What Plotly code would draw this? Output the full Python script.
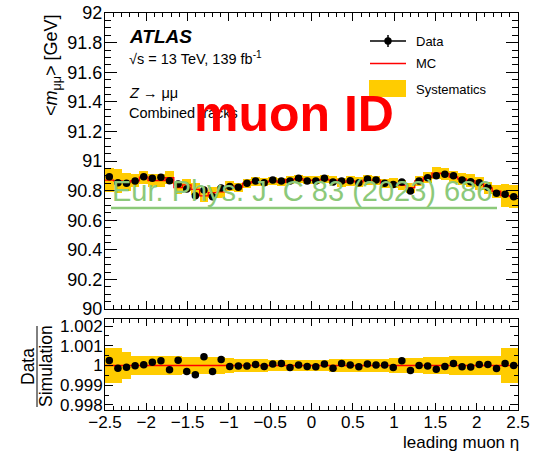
import numpy as np
import plotly.graph_objects as go

# ---------------- data ----------------
eta_edges = np.linspace(-2.5, 2.5, 49)   # 48 bins in leading-muon eta

data_mass = [90.894, 90.853, 90.849, 90.865, 90.894, 90.883, 90.890, 90.867,
             90.845, 90.811, 90.766, 90.804, 90.759, 90.818, 90.827, 90.822,
             90.849, 90.865, 90.853, 90.872, 90.865, 90.865, 90.883, 90.865,
             90.865, 90.883, 90.858, 90.865, 90.867, 90.853, 90.878, 90.872,
             90.849, 90.842, 90.858, 90.797, 90.865, 90.887, 90.901, 90.910,
             90.901, 90.872, 90.860, 90.853, 90.822, 90.782, 90.775, 90.759]

ratio = [1.00025, 0.999864, 0.999915, 0.999983, 1.000034, 1.00017, 1.00024, 0.99978,
         1.00027, 0.9997, 0.99953, 1.00044, 0.9997, 1.0003, 0.99995, 0.99998,
         0.99998, 1.00005, 0.99995, 1.00007, 1.0001, 0.9999, 1.00003, 0.99995,
         0.99993, 1.00008, 0.99986, 1.0001, 1.00002, 0.99993, 1.00008, 1.00002,
         1.00002, 0.9999, 1.00024, 0.99975, 1.0, 0.99998, 0.99981, 0.99995,
         1.0001, 0.99993, 0.99992, 1.00005, 1.00005, 0.99985, 1.0001, 1.0]

syst_rel = [0.00088, 0.00088, 0.00068, 0.00050, 0.00049, 0.00048, 0.00047, 0.00047,
            0.00046, 0.00045, 0.00045, 0.00044, 0.00043, 0.00042, 0.00036, 0.00034,
            0.00033, 0.00032, 0.00031, 0.00030, 0.00030, 0.00030, 0.00030, 0.00030,
            0.00030, 0.00030, 0.00031, 0.00034, 0.00035, 0.00035, 0.00035, 0.00035,
            0.00035, 0.00036, 0.00036, 0.00036, 0.00037, 0.00044, 0.00045, 0.00045,
            0.00046, 0.00046, 0.00046, 0.00047, 0.00047, 0.00048, 0.00088, 0.00088]

x_tick_vals = [-2.5, -2, -1.5, -1, -0.5, 0, 0.5, 1, 1.5, 2, 2.5]
x_tick_text = ["\u22122.5", "\u22122", "\u22121.5", "\u22121", "\u22120.5", "0", "0.5", "1", "1.5", "2", "2.5"]
y2_tick_vals = [0.998, 0.999, 1.0, 1.001, 1.002]
y2_tick_text = ["0.998", "0.999", "1", "1.001", "1.002"]

# ---------------- derived ----------------
centers = 0.5 * (eta_edges[:-1] + eta_edges[1:])
bw = eta_edges[1] - eta_edges[0]
data_mass = np.array(data_mass)
ratio = np.array(ratio)
syst_rel = np.array(syst_rel)
mc = data_mass / ratio
band_abs = syst_rel * mc

# ---------------- geometry helpers ----------------
W, H = 544, 452
L, R, T, B = 105, 518, 13, 410


def px(xp):
    return (xp - L) / (R - L)


def py(yp):
    return (B - yp) / (B - T)


YELLOW = "#FFCC00"
RED = "#FF0000"
GREEN = "#8CC97A"
FONT = "Liberation Sans, Arial, Helvetica, sans-serif"

fig = go.Figure()

# top panel
fig.add_trace(go.Bar(x=centers, y=2 * band_abs, base=mc - band_abs, width=bw,
                     marker=dict(color=YELLOW, line=dict(width=0)),
                     xaxis="x", yaxis="y", hoverinfo="skip"))
fig.add_trace(go.Scatter(x=eta_edges, y=np.append(mc, mc[-1]), mode="lines",
                         line=dict(color=RED, width=1.3, shape="hv"),
                         xaxis="x", yaxis="y"))
fig.add_trace(go.Scatter(x=centers, y=data_mass, mode="markers",
                         marker=dict(color="black", size=7.5),
                         xaxis="x", yaxis="y"))

# ratio panel
fig.add_trace(go.Bar(x=centers, y=2 * syst_rel, base=1 - syst_rel, width=bw,
                     marker=dict(color=YELLOW, line=dict(width=0)),
                     xaxis="x2", yaxis="y2", hoverinfo="skip"))
fig.add_trace(go.Scatter(x=[eta_edges[0], eta_edges[-1]], y=[1, 1], mode="lines",
                         line=dict(color=RED, width=1.3),
                         xaxis="x2", yaxis="y2"))
fig.add_trace(go.Scatter(x=centers, y=ratio, mode="markers",
                         marker=dict(color="black", size=7.5),
                         xaxis="x2", yaxis="y2"))

y_top_lo = py(309)
y_bot_hi = py(319)

axis_common = dict(showline=True, linecolor="black", linewidth=1, mirror="allticks",
                   ticks="inside", tickcolor="black", showgrid=False, zeroline=False,
                   automargin=False,
                   tickfont=dict(family=FONT, size=17, color="black"))

fig.update_layout(
    template="none",
    width=W, height=H,
    margin=dict(l=L, r=W - R, t=T, b=H - B, pad=0, autoexpand=False),
    paper_bgcolor="white", plot_bgcolor="white",
    showlegend=False, barmode="overlay", bargap=0,
    font=dict(family=FONT, color="black"),
    xaxis=dict(**axis_common, domain=[0, 1], range=[-2.5, 2.5], anchor="y",
               tickmode="array", tickvals=x_tick_vals, showticklabels=False,
               ticklen=8, minor=dict(dtick=0.1, tick0=-2.5, ticklen=4, ticks="inside", tickcolor="black")),
    yaxis=dict(**axis_common, domain=[y_top_lo, 1], range=[90, 92], anchor="x",
               tickmode="linear", tick0=90, dtick=0.2, ticklen=12, ticklabelstandoff=-2,
               minor=dict(dtick=0.05, tick0=90, ticklen=6, ticks="inside", tickcolor="black")),
    xaxis2=dict(**axis_common, domain=[0, 1], range=[-2.5, 2.5], anchor="y2",
                tickmode="array", tickvals=x_tick_vals, ticktext=x_tick_text, ticklabelstandoff=-3,
                ticklen=7, minor=dict(dtick=0.1, tick0=-2.5, ticklen=4, ticks="inside", tickcolor="black")),
    yaxis2=dict(**axis_common, domain=[0, y_bot_hi], range=[0.99774, 1.00236], anchor="x2",
                tickmode="array", tickvals=y2_tick_vals, ticktext=y2_tick_text, ticklen=8,
                ticklabelstandoff=-2,
                minor=dict(dtick=0.0005, tick0=0.998, ticklen=4, ticks="inside", tickcolor="black")),
)
fig.update_yaxes(tickfont=dict(size=18), selector=dict(anchor="x"))

ann = []


def text(x, y, s, size, xanchor="left", yanchor="middle", color="black", angle=0, **kw):
    ann.append(dict(x=px(x), y=py(y), xref="paper", yref="paper", text=s, showarrow=False,
                    xanchor=xanchor, yanchor=yanchor, textangle=angle,
                    font=dict(family=FONT, size=size, color=color), **kw))


# axis titles
text(53, 12, "&lt;<i>m</i><sub>μμ</sub>&gt; [GeV]", 18, xanchor="center", yanchor="top", angle=-90)
text(28, 367, "Data", 17.5, xanchor="center", yanchor="middle", angle=-90)
text(46, 366, "Simulation", 17.5, xanchor="center", yanchor="middle", angle=-90)
text(521, 442, "leading muon η", 17, xanchor="right", yanchor="middle")

# ATLAS label block
text(127, 36, "<b><i>ATLAS</i></b>", 19)
text(127, 58, "√s = 13 TeV, 139 fb<sup>-1</sup>", 14.5)
text(127, 93, "<i>Z</i> → μμ", 14.5)
text(127, 113, "Combined tracks", 14.5)

# legend texts
text(414, 41, "Data", 13)
text(414, 63.5, "MC", 13)
text(414, 89, "Systematics", 13)

# overlays
text(294, 114, "<b>muon ID</b>", 50, xanchor="center", color=RED)
text(110, 191, "Eur. Phys. J. C 83 (2023) 686", 29, color=GREEN)

shapes = [
    # fraction bar
    dict(type="line", xref="paper", yref="paper", x0=px(37), x1=px(37), y0=py(326), y1=py(407),
         line=dict(color="black", width=1)),
    # legend marks
    dict(type="line", xref="paper", yref="paper", x0=px(370), x1=px(406), y0=py(41), y1=py(41),
         line=dict(color="black", width=1.5)),
    dict(type="line", xref="paper", yref="paper", x0=px(388), x1=px(388), y0=py(35), y1=py(47),
         line=dict(color="black", width=1.5)),
    dict(type="circle", xref="paper", yref="paper", x0=px(384.3), x1=px(391.7), y0=py(37.3), y1=py(44.7),
         fillcolor="black", line=dict(color="black", width=0)),
    dict(type="line", xref="paper", yref="paper", x0=px(370), x1=px(406), y0=py(63.5), y1=py(63.5),
         line=dict(color=RED, width=1.3)),
    dict(type="rect", xref="paper", yref="paper", x0=px(369), x1=px(406), y0=py(80), y1=py(97),
         fillcolor=YELLOW, line=dict(width=0)),
    # underline of journal reference
    dict(type="line", xref="paper", yref="paper", x0=px(111), x1=px(497), y0=py(208), y1=py(208),
         line=dict(color=GREEN, width=2.5)),
]

fig.update_layout(annotations=ann, shapes=shapes)
fig.write_html("out.html")
